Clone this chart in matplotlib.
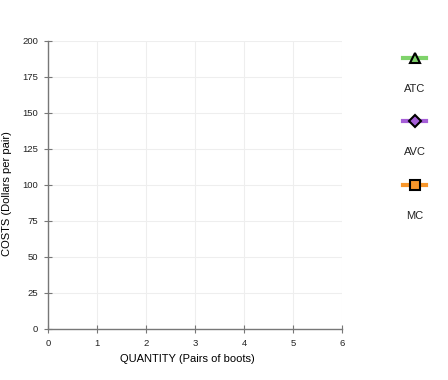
import matplotlib
matplotlib.use("Agg")
import matplotlib.pyplot as plt
from matplotlib.lines import Line2D

plt.rcParams['font.family'] = ['Liberation Sans', 'DejaVu Sans']

quantity_ticks = [0, 1, 2, 3, 4, 5, 6]
cost_ticks = [0, 25, 50, 75, 100, 125, 150, 175, 200]
series_names = ["ATC", "AVC", "MC"]
series_colors = ["#7fd36b", "#a65fd8", "#f7962b"]
series_markers = ["^", "D", "s"]
series_fill = ["#7fd36b", "#a65fd8", "#f7962b"]
# The chart shows no plotted points (blank graph for student input)
atc_q, atc_v = [], []
avc_q, avc_v = [], []
mc_q, mc_v = [], []

fig = plt.figure(figsize=(4.48, 3.8), dpi=100)
ax = fig.add_axes([48/448, 1 - 329/380, (342-48)/448, (329-41)/380])

for (q, v), c in zip([(atc_q, atc_v), (avc_q, avc_v), (mc_q, mc_v)], series_colors):
    ax.plot(q, v, color=c)

ax.set_xlim(quantity_ticks[0], quantity_ticks[-1])
ax.set_ylim(cost_ticks[0], cost_ticks[-1])
ax.set_xticks(quantity_ticks)
ax.set_yticks(cost_ticks)
ax.grid(True, color="#eeeeee", linewidth=0.8)
ax.set_axisbelow(True)
for s in ["top", "right"]:
    ax.spines[s].set_visible(False)
for s in ["left", "bottom"]:
    ax.spines[s].set_color("#777777")
    ax.spines[s].set_linewidth(1.0)
ax.tick_params(direction="inout", length=6, width=0.8, color="#777777",
               labelsize=6.8, labelcolor="#222222", pad=4)
ax.set_xlabel("QUANTITY (Pairs of boots)", fontsize=8, va="center")
ax.set_ylabel("COSTS (Dollars per pair)", fontsize=8, va="center")
ax.xaxis.set_label_coords(0.473, -0.104)
ax.yaxis.set_label_coords(-0.139, 0.47)

# Legend on the right
W, H = 448, 380
legend_y = [58, 121, 185]
for name, c, m, f, yp in zip(series_names, series_colors, series_markers, series_fill, legend_y):
    yf = 1 - yp / H
    fig.add_artist(Line2D([403/W, 426/W], [yf, yf], color=c, linewidth=3,
                          transform=fig.transFigure))
    fig.add_artist(Line2D([414.5/W], [yf], marker=m, markersize=7 if m != "D" else 6,
                          markerfacecolor=f, markeredgecolor="black", markeredgewidth=1.5,
                          linestyle="none", transform=fig.transFigure))
    fig.text(414.5/W, 1 - (yp + 31)/H, name, ha="center", va="center", fontsize=8,
             color="#222222")

fig.savefig("out.png", dpi=100)
